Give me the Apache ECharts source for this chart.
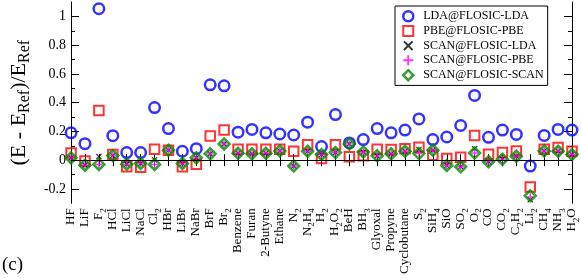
<!DOCTYPE html>
<html><head><meta charset="utf-8">
<script src="https://cdn.jsdelivr.net/npm/echarts@6/dist/echarts.min.js"></script>
<style>html,body{margin:0;padding:0;background:#fff}#c{width:581px;height:278px}</style>
</head><body><div id="c"></div>
<script>
const categories = ['HF','LiF','F_2','HCl','LiCl','NaCl','Cl_2','HBr','LiBr','NaBr','BrF','Br_2','Benzene','Furan','2-Butyne','Ethane','N_2','N_2H_4','H_2','H_2O_2','BeH','BH_3','Glyoxal','Propyne','Cyclobutane','S_2','SiH_4','SiO','SO_2','O_2','CO','CO_2','C_2H_2','Li_2','CH_4','NH_3','H_2O'];
const ldaLda = [0.19,0.115,1.053,0.17,0.053,0.053,0.366,0.22,0.062,0.08,0.524,0.517,0.195,0.214,0.19,0.182,0.175,0.264,0.095,0.317,0.12,0.143,0.22,0.19,0.209,0.287,0.143,0.161,0.241,0.45,0.159,0.209,0.179,-0.041,0.172,0.214,0.209];
const pbePbe = [0.05,-0.005,0.345,0.04,-0.046,-0.05,0.076,0.069,-0.046,-0.028,0.168,0.209,0.076,0.076,0.076,0.076,0.062,0.108,0.011,0.108,0.023,0.03,0.076,0.074,0.08,0.09,0.034,0.011,0.021,0.172,0.041,0.053,0.064,-0.186,0.076,0.088,0.062];
const scanLda = [0.016,-0.035,0.025,0.032,-0.028,-0.023,0.003,0.069,-0.023,0.016,0.044,0.113,0.048,0.044,0.048,0.064,-0.041,0.062,0.039,0.053,0.113,0.057,0.03,0.044,0.062,0.074,0.069,-0.037,-0.046,0.08,-0.011,0.007,0.028,-0.275,0.064,0.062,0.039];
const scanPbe = [0.016,-0.035,-0.03,0.032,-0.028,-0.02,-0.03,0.069,-0.023,0.016,0.044,0.113,0.048,0.044,0.048,0.064,-0.041,0.062,0.039,0.053,0.113,0.057,0.03,0.044,0.062,0.046,0.069,-0.037,-0.046,0.05,-0.011,0.007,0.028,-0.255,0.064,0.062,0.039];
const scanScan = [0.016,-0.035,-0.03,0.032,-0.028,-0.023,-0.03,0.069,-0.023,0.016,0.044,0.113,0.048,0.044,0.048,0.064,-0.041,0.062,0.039,0.053,0.113,0.057,0.03,0.044,0.062,0.046,0.069,-0.037,-0.046,0.05,-0.011,0.007,0.028,-0.248,0.064,0.062,0.039];
const majorTicks = [-0.2,0,0.2,0.4,0.6,0.8,1];
const minorTicks = [-0.1,0.1,0.3,0.5,0.7,0.9];
const seriesNames = ['LDA@FLOSIC-LDA','PBE@FLOSIC-PBE','SCAN@FLOSIC-LDA','SCAN@FLOSIC-PBE','SCAN@FLOSIC-SCAN'];

const FONT = 'Liberation Serif';
const PLUS = 'path://M4,0H6V4H10V6H6V10H4V6H0V4H4Z';
const CROSS = 'path://M1.4,0L5,3.6L8.6,0L10,1.4L6.4,5L10,8.6L8.6,10L5,6.4L1.4,10L0,8.6L3.6,5L0,1.4Z';

function toRich(s){
  return s.split(/(_\d)/).filter(t=>t.length).map(t=> t[0]==='_' ? '{s|'+t.slice(1)+'}' : '{n|'+t+'}').join('');
}
const chart = echarts.init(document.getElementById('c'), null, {renderer:'canvas'});
const yBase = {type:'value', min:-0.3, max:1.1, splitLine:{show:false}};
const tickStyle = {color:'#000', width:1};
const fmt = v => String(Math.round(v*10)/10);
const option = {
  animation:false,
  backgroundColor:'#fff',
  grid:{left:66.7, right:8, top:2, bottom:74.7},
  legend:{
    orient:'vertical', left:395, top:6,
    padding:[4,4,4,7], itemGap:2.6, itemWidth:10, itemHeight:10,
    borderColor:'#000', borderWidth:1, backgroundColor:'#fff',
    textStyle:{fontFamily:FONT, fontSize:12, color:'#000', padding:[0,0,0,5]},
    data:[
      {name:seriesNames[0], icon:'circle', itemStyle:{color:'rgba(0,0,0,0)', borderColor:'#0000ff', borderWidth:2.5}},
      {name:seriesNames[1], icon:'rect', itemStyle:{color:'rgba(0,0,0,0)', borderColor:'#ff0000', borderWidth:2}},
      {name:seriesNames[2], icon:CROSS, itemStyle:{color:'#000', borderWidth:0}},
      {name:seriesNames[3], icon:PLUS, itemStyle:{color:'#ff00ff', borderWidth:0}},
      {name:seriesNames[4], icon:'diamond', itemStyle:{color:'rgba(0,0,0,0)', borderColor:'#008b00', borderWidth:2.5}}
    ]
  },
  xAxis:[
    {type:'category', data:categories, boundaryGap:false, position:'bottom',
     axisLine:{lineStyle:{color:'#000', width:1}},
     axisTick:{inside:true, length:6, lineStyle:tickStyle, alignWithLabel:true, interval:0},
     axisLabel:{interval:0, rotate:90, margin:5, color:'#000', formatter:v=>toRich(v),
       rich:{n:{fontFamily:FONT, fontSize:13, color:'#000', verticalAlign:'top', lineHeight:14},
             s:{fontFamily:FONT, fontSize:9, color:'#000', verticalAlign:'top', lineHeight:9, padding:[7,0,0,0]}}}},
    {type:'category', data:categories, boundaryGap:false, position:'top',
     axisLine:{lineStyle:{color:'#000', width:1}},
     axisTick:{inside:true, length:6, lineStyle:tickStyle, interval:0},
     axisLabel:{show:false}}
  ],
  yAxis:[
    Object.assign({}, yBase, {position:'left',
      axisLine:{show:true, onZero:false, lineStyle:{color:'#000', width:1}},
      axisTick:{show:true, inside:true, length:8, lineStyle:tickStyle, customValues:majorTicks},
      axisLabel:{show:true, customValues:majorTicks, formatter:fmt, fontFamily:FONT, fontSize:14, color:'#000', margin:5},
      name:'{n|(E - E}{s|Ref}{n|)/E}{s|Ref}', nameLocation:'middle', nameRotate:90, nameGap:38,
      nameTextStyle:{rich:{n:{fontFamily:FONT, fontSize:22, color:'#000', verticalAlign:'top', lineHeight:22},
                           s:{fontFamily:FONT, fontSize:16, color:'#000', verticalAlign:'top', lineHeight:16, padding:[9,0,0,0]}}}}),
    Object.assign({}, yBase, {position:'left',
      axisLine:{show:false}, axisLabel:{show:false},
      axisTick:{show:true, inside:true, length:4, lineStyle:tickStyle, customValues:minorTicks}}),
    Object.assign({}, yBase, {position:'right',
      axisLine:{show:true, onZero:false, lineStyle:{color:'#000', width:1}}, axisLabel:{show:false},
      axisTick:{show:true, inside:true, length:8, lineStyle:tickStyle, customValues:majorTicks}}),
    Object.assign({}, yBase, {position:'right',
      axisLine:{show:false}, axisLabel:{show:false},
      axisTick:{show:true, inside:true, length:4, lineStyle:tickStyle, customValues:minorTicks}})
  ],
  graphic:[{type:'text', left:2, top:256, style:{text:'(c)', font:'19px "Liberation Serif"', fill:'#000'}}],
  series:[
    {name:seriesNames[0], type:'scatter', data:ldaLda, symbol:'circle', symbolSize:10.5,
     itemStyle:{color:'rgba(0,0,0,0)', borderColor:'#0000ff', borderWidth:2.5},
     markLine:{silent:true, symbol:'none', label:{show:false}, lineStyle:{color:'#000', width:1, type:'solid'}, data:[{yAxis:0}]}},
    {name:seriesNames[1], type:'scatter', data:pbePbe, symbol:'rect', symbolSize:9.5,
     itemStyle:{color:'rgba(0,0,0,0)', borderColor:'#ff0000', borderWidth:2}},
    {name:seriesNames[2], type:'scatter', data:scanLda, symbol:CROSS, symbolSize:6,
     itemStyle:{color:'#000'}},
    {name:seriesNames[3], type:'scatter', data:scanPbe, symbol:PLUS, symbolSize:7,
     itemStyle:{color:'#ff00ff'}},
    {name:seriesNames[4], type:'scatter', data:scanScan, symbol:'diamond', symbolSize:[11,11],
     itemStyle:{color:'rgba(0,0,0,0)', borderColor:'#008b00', borderWidth:2.5}}
  ]
};
chart.setOption(option);
</script></body></html>
